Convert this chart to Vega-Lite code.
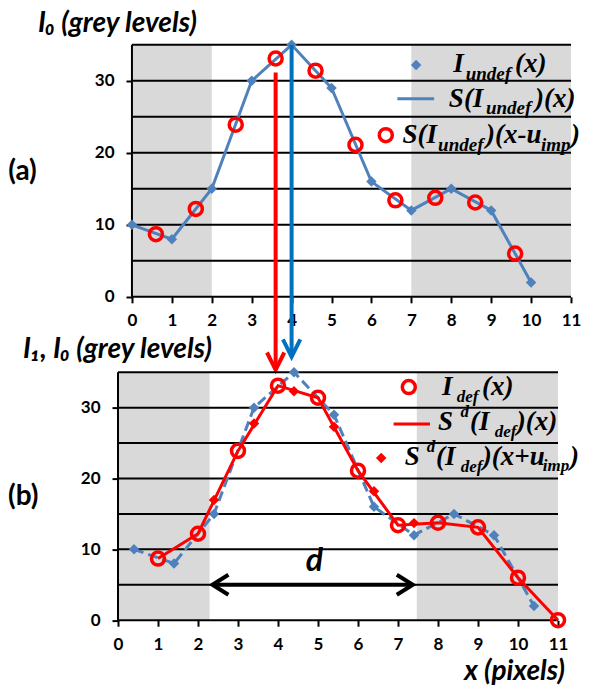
{
  "$schema": "https://vega.github.io/schema/vega-lite/v6.json",
  "padding": {"left": 8, "top": 9, "right": 0, "bottom": 0},
  "spacing": 53.6,
  "bounds": "flush",
  "resolve": {"scale": {"x": "independent", "y": "independent", "size": "independent"}},
  "config": {
    "view": {"stroke": null},
    "axis": {"domainColor": "black", "domainWidth": 2, "tickColor": "black", "tickWidth": 2, "tickSize": 6, "labelFont": "Lato", "labelFontSize": 17, "labelFontWeight": "bold", "labelColor": "black", "labelOverlap": false, "labelFlush": false, "labelBound": false, "grid": false}
  },
  "vconcat": [
    {
      "width": 463, "height": 273.6,
      "layer": [
        {
          "data": {"values": [{"a": 0, "b": 2}, {"a": 7, "b": 11}]},
          "mark": {"type": "rect", "color": "#d9d9d9"},
          "encoding": {
            "x": {"field": "a", "type": "quantitative", "scale": {"domain": [-0.6, 11], "nice": false, "zero": false}, "axis": {"values": [0,1,2,3,4,5,6,7,8,9,10,11], "title": null, "domain": false, "offset": -10.8, "labelPadding": 10, "labelOverlap": false, "labelFlush": false}},
            "x2": {"field": "b"},
            "y": {"datum": 0, "type": "quantitative", "scale": {"domain": [-1.5, 36.5], "nice": false, "zero": false}, "axis": {"values": [0,5,10,15,20,25,30,35], "title": null, "domain": false, "offset": -24, "labelPadding": 12, "labelOverlap": false, "labelFlush": false}},
            "y2": {"datum": 35}
          }
        },
        {
          "data": {"values": [{"g": 0}, {"g": 5}, {"g": 10}, {"g": 15}, {"g": 20}, {"g": 25}, {"g": 30}, {"g": 35}]},
          "mark": {"type": "rule", "color": "black", "strokeWidth": 2},
          "encoding": {"y": {"field": "g", "type": "quantitative"}, "x": {"datum": 0}, "x2": {"datum": 11}}
        },
        {
          "data": {"values": [{"a": 0, "b": 35}]},
          "mark": {"type": "rule", "color": "black", "strokeWidth": 2},
          "encoding": {"y": {"field": "a", "type": "quantitative"}, "y2": {"field": "b"}, "x": {"datum": 0}}
        },
        {
          "data": {"values": [{"x":0,"v":10},{"x":1,"v":8},{"x":2,"v":15},{"x":3,"v":30},{"x":4,"v":35},{"x":5,"v":29},{"x":6,"v":16},{"x":7,"v":12},{"x":8,"v":15},{"x":9,"v":12},{"x":10,"v":2}]},
          "layer": [
            {"mark": {"type": "line", "color": "#4f81bd", "strokeWidth": 3}, "encoding": {"x": {"field": "x", "type": "quantitative"}, "y": {"field": "v", "type": "quantitative"}}},
            {"mark": {"type": "point", "shape": "diamond", "filled": true, "color": "#4f81bd", "size": 110, "opacity": 1}, "encoding": {"x": {"field": "x", "type": "quantitative"}, "y": {"field": "v", "type": "quantitative"}}}
          ]
        },
        {
          "data": {"values": [{"x":0.6,"v":8.7},{"x":1.6,"v":12.2},{"x":2.6,"v":23.9},{"x":3.6,"v":33.1},{"x":4.6,"v":31.4},{"x":5.6,"v":21.1},{"x":6.6,"v":13.4},{"x":7.6,"v":13.75},{"x":8.6,"v":13.1},{"x":9.6,"v":6.0}]},
          "mark": {"type": "point", "shape": "circle", "filled": false, "color": "#ff0000", "size": 170, "strokeWidth": 3.5, "opacity": 1},
          "encoding": {"x": {"field": "x", "type": "quantitative"}, "y": {"field": "v", "type": "quantitative"}}
        },
        {
          "data": {"values": [{"x": 7.12, "y": 32.2}]},
          "mark": {"type": "point", "shape": "diamond", "filled": true, "color": "#4f81bd", "size": 110, "opacity": 1},
          "encoding": {"x": {"field": "x", "type": "quantitative"}, "y": {"field": "y", "type": "quantitative"}}
        },
        {
          "data": {"values": [{"x": 6.65, "x2": 7.57, "y": 27.5}]},
          "mark": {"type": "rule", "color": "#4f81bd", "strokeWidth": 3},
          "encoding": {"x": {"field": "x", "type": "quantitative"}, "x2": {"field": "x2"}, "y": {"field": "y", "type": "quantitative"}}
        },
        {
          "data": {"values": [{"x": 6.36, "y": 22.45}]},
          "mark": {"type": "point", "shape": "circle", "filled": false, "color": "#ff0000", "size": 170, "strokeWidth": 3.5, "opacity": 1},
          "encoding": {"x": {"field": "x", "type": "quantitative"}, "y": {"field": "y", "type": "quantitative"}}
        },
        {
          "data": {"values": [
            {"t": "I", "x": 8.05, "y": 32.4, "k": "m"},
            {"t": "undef", "x": 8.36, "y": 31.0, "k": "s"},
            {"t": "(x)", "x": 9.6, "y": 32.4, "k": "m"},
            {"t": "S(I", "x": 7.94, "y": 27.5, "k": "m"},
            {"t": "undef", "x": 8.87, "y": 26.2, "k": "s"},
            {"t": ")(x)", "x": 10.1, "y": 27.5, "k": "m"},
            {"t": "S(I", "x": 6.78, "y": 22.45, "k": "m"},
            {"t": "undef", "x": 7.67, "y": 21.07, "k": "s"},
            {"t": ")(x-u", "x": 8.87, "y": 22.45, "k": "m"},
            {"t": "imp", "x": 10.25, "y": 21.07, "k": "s"},
            {"t": ")", "x": 11.0, "y": 22.45, "k": "m"}
          ]},
          "mark": {"type": "text", "font": "Liberation Serif", "fontStyle": "italic", "fontWeight": "bold", "align": "left", "baseline": "middle", "color": "black"},
          "encoding": {
            "x": {"field": "x", "type": "quantitative"}, "y": {"field": "y", "type": "quantitative"},
            "text": {"field": "t"},
            "size": {"field": "k", "type": "nominal", "scale": {"domain": ["m", "s"], "range": [27, 19]}, "legend": null}
          }
        },
        {
          "data": {"values": [{"x": 3.6, "y1": 31.15, "y2": -10.14}]},
          "layer": [
            {"mark": {"type": "rule", "color": "#ff0000", "strokeWidth": 4}, "encoding": {"x": {"field": "x", "type": "quantitative"}, "y": {"field": "y1", "type": "quantitative"}, "y2": {"field": "y2"}}},
            {"mark": {"type": "point", "shape": "M-1,-2L0,0L1,-2", "filled": false, "color": "#ff0000", "size": 300, "strokeWidth": 4, "strokeJoin": "miter", "opacity": 1}, "encoding": {"x": {"field": "x", "type": "quantitative"}, "y": {"field": "y2", "type": "quantitative"}}}
          ]
        },
        {
          "data": {"values": [{"x": 4.0, "y1": 35, "y2": -8.33}]},
          "layer": [
            {"mark": {"type": "rule", "color": "#0070c0", "strokeWidth": 4}, "encoding": {"x": {"field": "x", "type": "quantitative"}, "y": {"field": "y1", "type": "quantitative"}, "y2": {"field": "y2"}}},
            {"mark": {"type": "point", "shape": "M-1,-2L0,0L1,-2", "filled": false, "color": "#0070c0", "size": 300, "strokeWidth": 4, "strokeJoin": "miter", "opacity": 1}, "encoding": {"x": {"field": "x", "type": "quantitative"}, "y": {"field": "y2", "type": "quantitative"}}}
          ]
        },
        {
          "data": {"values": [{"t": "(a)", "x": -3.1, "y": 17.4}]},
          "mark": {"type": "text", "font": "Lato", "fontWeight": "bold", "fontSize": 28, "align": "left", "baseline": "middle", "color": "black"},
          "encoding": {"x": {"field": "x", "type": "quantitative"}, "y": {"field": "y", "type": "quantitative"}, "text": {"field": "t"}}
        },
        {
          "data": {"values": [{"t": "I₀ (grey levels)", "x": -2.355, "y": 37.92}]},
          "mark": {"type": "text", "font": "Lato", "fontWeight": "bold", "fontStyle": "italic", "fontSize": 28, "align": "left", "baseline": "middle", "color": "black"},
          "encoding": {"x": {"field": "x", "type": "quantitative"}, "y": {"field": "y", "type": "quantitative"}, "text": {"field": "t"}}
        }
      ]
    },
    {
      "width": 450, "height": 269.2,
      "layer": [
        {
          "data": {"values": [{"a": 0, "b": 2.29}, {"a": 7.47, "b": 11}]},
          "mark": {"type": "rect", "color": "#d9d9d9"},
          "encoding": {
            "x": {"field": "a", "type": "quantitative", "scale": {"domain": [-0.25, 11], "nice": false, "zero": false}, "axis": {"values": [0,1,2,3,4,5,6,7,8,9,10,11], "domain": false, "title": null, "offset": -10.6, "labelPadding": 10, "labelOverlap": false, "labelFlush": false}},
            "x2": {"field": "b"},
            "y": {"datum": 0, "type": "quantitative", "scale": {"domain": [-1.5, 36.5], "nice": false, "zero": false}, "axis": {"values": [0,5,10,15,20,25,30,35], "domain": false, "title": null, "offset": -10, "labelPadding": 12, "labelOverlap": false, "labelFlush": false}},
            "y2": {"datum": 35}
          }
        },
        {
          "data": {"values": [{"g": 0}, {"g": 5}, {"g": 10}, {"g": 15}, {"g": 20}, {"g": 25}, {"g": 30}, {"g": 35}]},
          "mark": {"type": "rule", "color": "black", "strokeWidth": 2},
          "encoding": {"y": {"field": "g", "type": "quantitative"}, "x": {"datum": 0}, "x2": {"datum": 11}}
        },
        {
          "data": {"values": [{"a": 0, "b": 35}]},
          "mark": {"type": "rule", "color": "black", "strokeWidth": 2},
          "encoding": {"y": {"field": "a", "type": "quantitative"}, "y2": {"field": "b"}, "x": {"datum": 0}}
        },
        {
          "data": {"values": [{"x":0.4,"v":10},{"x":1.4,"v":8},{"x":2.4,"v":15},{"x":3.4,"v":30},{"x":4.4,"v":35},{"x":5.4,"v":29},{"x":6.4,"v":16},{"x":7.4,"v":12},{"x":8.4,"v":15},{"x":9.4,"v":12},{"x":10.4,"v":2}]},
          "layer": [
            {"mark": {"type": "line", "color": "#4f81bd", "strokeWidth": 3, "strokeDash": [10, 5]}, "encoding": {"x": {"field": "x", "type": "quantitative"}, "y": {"field": "v", "type": "quantitative"}}},
            {"mark": {"type": "point", "shape": "diamond", "filled": true, "color": "#4f81bd", "size": 110, "opacity": 1}, "encoding": {"x": {"field": "x", "type": "quantitative"}, "y": {"field": "v", "type": "quantitative"}}}
          ]
        },
        {
          "data": {"values": [{"x":1,"v":8.7},{"x":2,"v":12.2},{"x":3,"v":23.9},{"x":4,"v":33.1},{"x":5,"v":31.4},{"x":6,"v":21.1},{"x":7,"v":13.4},{"x":8,"v":13.75},{"x":9,"v":13.1},{"x":10,"v":6.0},{"x":11,"v":0}]},
          "layer": [
            {"mark": {"type": "line", "color": "#ff0000", "strokeWidth": 3}, "encoding": {"x": {"field": "x", "type": "quantitative"}, "y": {"field": "v", "type": "quantitative"}}},
            {"mark": {"type": "point", "shape": "circle", "filled": false, "color": "#ff0000", "size": 170, "strokeWidth": 3.5, "opacity": 1}, "encoding": {"x": {"field": "x", "type": "quantitative"}, "y": {"field": "v", "type": "quantitative"}}}
          ]
        },
        {
          "data": {"values": [{"x":2.4,"v":16.96},{"x":3.4,"v":27.75},{"x":4.4,"v":32.3},{"x":5.4,"v":27.3},{"x":6.4,"v":18.2},{"x":7.4,"v":13.7}]},
          "mark": {"type": "point", "shape": "diamond", "filled": true, "color": "#ff0000", "size": 110, "opacity": 1},
          "encoding": {"x": {"field": "x", "type": "quantitative"}, "y": {"field": "v", "type": "quantitative"}}
        },
        {
          "data": {"values": [{"x": 7.27, "y": 32.9}]},
          "mark": {"type": "point", "shape": "circle", "filled": false, "color": "#ff0000", "size": 170, "strokeWidth": 3.5, "opacity": 1},
          "encoding": {"x": {"field": "x", "type": "quantitative"}, "y": {"field": "y", "type": "quantitative"}}
        },
        {
          "data": {"values": [{"x": 6.89, "x2": 7.8, "y": 27.7}]},
          "mark": {"type": "rule", "color": "#ff0000", "strokeWidth": 3},
          "encoding": {"x": {"field": "x", "type": "quantitative"}, "x2": {"field": "x2"}, "y": {"field": "y", "type": "quantitative"}}
        },
        {
          "data": {"values": [{"x": 6.58, "y": 22.9}]},
          "mark": {"type": "point", "shape": "diamond", "filled": true, "color": "#ff0000", "size": 110, "opacity": 1},
          "encoding": {"x": {"field": "x", "type": "quantitative"}, "y": {"field": "y", "type": "quantitative"}}
        },
        {
          "data": {"values": [
            {"t": "I", "x": 8.1, "y": 32.9, "k": "m"},
            {"t": "def", "x": 8.47, "y": 31.5, "k": "s"},
            {"t": "(x)", "x": 9.1, "y": 32.9, "k": "m"},
            {"t": "S", "x": 8.0, "y": 28.0, "k": "m"},
            {"t": "d", "x": 8.56, "y": 29.4, "k": "s"},
            {"t": "(I", "x": 8.8, "y": 28.0, "k": "m"},
            {"t": "def", "x": 9.42, "y": 26.6, "k": "s"},
            {"t": ")(x)", "x": 9.97, "y": 28.0, "k": "m"},
            {"t": "S", "x": 7.17, "y": 23.0, "k": "m"},
            {"t": "d", "x": 7.72, "y": 24.4, "k": "s"},
            {"t": "(I", "x": 7.95, "y": 23.0, "k": "m"},
            {"t": "def", "x": 8.57, "y": 21.65, "k": "s"},
            {"t": ")(x+u", "x": 9.12, "y": 23.0, "k": "m"},
            {"t": "imp", "x": 10.62, "y": 21.8, "k": "s"},
            {"t": ")", "x": 11.3, "y": 23.0, "k": "m"}
          ]},
          "mark": {"type": "text", "font": "Liberation Serif", "fontStyle": "italic", "fontWeight": "bold", "align": "left", "baseline": "middle", "color": "black"},
          "encoding": {
            "x": {"field": "x", "type": "quantitative"}, "y": {"field": "y", "type": "quantitative"},
            "text": {"field": "t"},
            "size": {"field": "k", "type": "nominal", "scale": {"domain": ["m", "s"], "range": [27, 17]}, "legend": null}
          }
        },
        {
          "data": {"values": [{"x": 2.36, "x2": 7.37, "y": 5.0}]},
          "layer": [
            {"mark": {"type": "rule", "color": "black", "strokeWidth": 4}, "encoding": {"x": {"field": "x", "type": "quantitative"}, "x2": {"field": "x2"}, "y": {"field": "y", "type": "quantitative"}}},
            {"mark": {"type": "point", "shape": "M1.6,-1L0,0L1.6,1", "filled": false, "color": "black", "size": 400, "strokeWidth": 4, "strokeJoin": "miter", "opacity": 1}, "encoding": {"x": {"field": "x", "type": "quantitative"}, "y": {"field": "y", "type": "quantitative"}}},
            {"mark": {"type": "point", "shape": "M-1.6,-1L0,0L-1.6,1", "filled": false, "color": "black", "size": 400, "strokeWidth": 4, "strokeJoin": "miter", "opacity": 1}, "encoding": {"x": {"field": "x2", "type": "quantitative"}, "y": {"field": "y", "type": "quantitative"}}}
          ]
        },
        {
          "data": {"values": [{"t": "d", "x": 4.91, "y": 8.4}]},
          "mark": {"type": "text", "font": "Lato", "fontWeight": "bold", "fontStyle": "italic", "fontSize": 32, "align": "center", "baseline": "middle", "color": "black"},
          "encoding": {"x": {"field": "x", "type": "quantitative"}, "y": {"field": "y", "type": "quantitative"}, "text": {"field": "t"}}
        },
        {
          "data": {"values": [{"t": "(b)", "x": -2.75, "y": 17.4}]},
          "mark": {"type": "text", "font": "Lato", "fontWeight": "bold", "fontSize": 28, "align": "left", "baseline": "middle", "color": "black"},
          "encoding": {"x": {"field": "x", "type": "quantitative"}, "y": {"field": "y", "type": "quantitative"}, "text": {"field": "t"}}
        },
        {
          "data": {"values": [{"t": "I₁, I₀ (grey levels)", "x": -2.375, "y": 38.1}]},
          "mark": {"type": "text", "font": "Lato", "fontWeight": "bold", "fontStyle": "italic", "fontSize": 28, "align": "left", "baseline": "middle", "color": "black"},
          "encoding": {"x": {"field": "x", "type": "quantitative"}, "y": {"field": "y", "type": "quantitative"}, "text": {"field": "t"}}
        },
        {
          "data": {"values": [{"t": "x (pixels)", "x": 11.175, "y": -7.34}]},
          "mark": {"type": "text", "font": "Lato", "fontWeight": "bold", "fontStyle": "italic", "fontSize": 28, "align": "right", "baseline": "middle", "color": "black"},
          "encoding": {"x": {"field": "x", "type": "quantitative"}, "y": {"field": "y", "type": "quantitative"}, "text": {"field": "t"}}
        }
      ]
    }
  ]
}
